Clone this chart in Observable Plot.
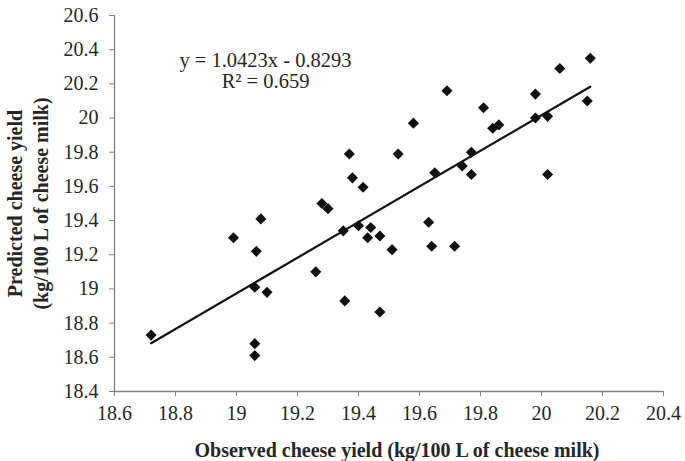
<!DOCTYPE html>
<html>
<head>
<meta charset="utf-8">
<script src="https://cdn.jsdelivr.net/npm/d3@7"></script>
<script src="https://cdn.jsdelivr.net/npm/@observablehq/plot@0.6"></script>
<style>
  html, body { margin: 0; padding: 0; background: #fff; }
  #chart svg { display: block; }
  #chart svg text { font-family: 'Liberation Serif', 'Times New Roman', serif; font-variant-numeric: normal; }
</style>
</head>
<body>
<div id="chart"></div>
<script>
const observed = [
  18.72, 19.06, 19.06, 18.99, 19.08, 19.065, 19.06, 19.10, 19.26, 19.28,
  19.30, 19.35, 19.355, 19.40, 19.44, 19.43, 19.47, 19.51, 19.47, 19.415,
  19.38, 19.37, 19.53, 19.58, 19.69, 19.81, 19.84, 19.86, 19.98, 20.02,
  19.98, 20.06, 20.16, 20.15, 20.02, 19.65, 19.74, 19.77, 19.77, 19.63,
  19.64, 19.715
];
const predicted = [
  18.73, 18.68, 18.61, 19.30, 19.41, 19.22, 19.01, 18.98, 19.10, 19.50,
  19.47, 19.34, 18.93, 19.37, 19.36, 19.30, 19.31, 19.23, 18.865, 19.595,
  19.65, 19.79, 19.79, 19.97, 20.16, 20.06, 19.94, 19.96, 20.00, 20.01,
  20.14, 20.29, 20.35, 20.10, 19.67, 19.68, 19.72, 19.80, 19.67, 19.39,
  19.25, 19.25
];
const slope = 1.0423;
const intercept = -0.8293;
const equationLines = ["y = 1.0423x - 0.8293", "R² = 0.659"];
const xTicks = [18.6, 18.8, 19, 19.2, 19.4, 19.6, 19.8, 20, 20.2, 20.4];
const yTicks = [18.4, 18.6, 18.8, 19, 19.2, 19.4, 19.6, 19.8, 20, 20.2, 20.4, 20.6];
const xTitle = "Observed cheese yield (kg/100 L of cheese milk)";
const yTitle = ["Predicted cheese yield", "(kg/100 L of cheese milk)"];

const points = observed.map((x, i) => ({x, y: predicted[i]}));
const [x0, x1] = d3.extent(observed);
const fit = [x0, x1].map(x => ({x, y: slope * x + intercept}));

const font = "'Liberation Serif', 'Times New Roman', serif";
const textColor = "#262626";
const axisColor = "#7f7f7f";

const chart = Plot.plot({
  width: 685,
  height: 461,
  marginLeft: 114,
  marginRight: 22,
  marginTop: 15,
  marginBottom: 70,
  style: {fontFamily: font, background: "#fff"},
  x: {domain: [18.6, 20.4]},
  y: {domain: [18.4, 20.6]},
  marks: [
    Plot.ruleX([18.6], {stroke: axisColor, strokeWidth: 1.3}),
    Plot.ruleY([18.4], {stroke: axisColor, strokeWidth: 1.3}),
    Plot.axisX({ticks: xTicks, tickFormat: d => String(d), tickSize: 5, tickPadding: 9,
      fontSize: 20, fontFamily: font, color: textColor, stroke: axisColor, label: null}),
    Plot.axisY({ticks: yTicks, tickFormat: d => String(d), tickSize: 5, tickPadding: 11,
      fontSize: 20, fontFamily: font, color: textColor, stroke: axisColor, label: null}),
    Plot.line(fit, {x: "x", y: "y", stroke: "#111", strokeWidth: 2.2}),
    Plot.dot(points, {x: "x", y: "y", symbol: "diamond2", r: 5, fill: "#111", stroke: "none"}),
    Plot.text([equationLines.join("\n")], {frameAnchor: "top-left", dx: 151, dy: 55,
      fontSize: 20.5, lineHeight: 1.05, fontFamily: font, fill: textColor,
      textAnchor: "middle", lineAnchor: "middle"}),
    Plot.text([xTitle], {frameAnchor: "bottom", dx: 8, dy: 59, fontSize: 20, fontFamily: font,
      fontWeight: "bold", fill: textColor, textAnchor: "middle", lineAnchor: "middle"}),
    Plot.text([yTitle.join("\n")], {frameAnchor: "left", dx: -88, rotate: -90, fontSize: 20,
      lineHeight: 1.3, fontFamily: font, fontWeight: "bold", fill: textColor,
      textAnchor: "middle", lineAnchor: "middle"})
  ]
});
document.getElementById("chart").append(chart);
</script>
</body>
</html>
